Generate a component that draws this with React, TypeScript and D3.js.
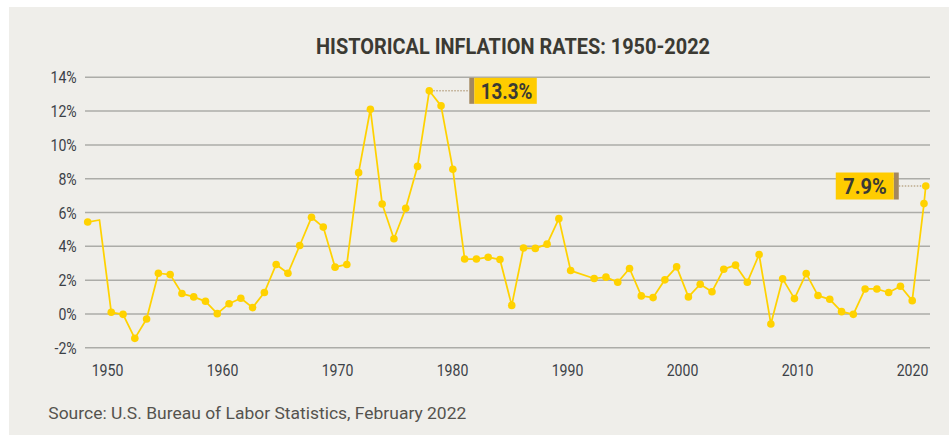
import * as d3 from 'd3'
import type { ReactNode } from 'react'

const TITLE = 'HISTORICAL INFLATION RATES: 1950-2022'
const SOURCE = 'Source: U.S. Bureau of Labor Statistics, February 2022'

// annual CPI change (%), 1950 onwards; null = year without a point
const startYear = 1950
const inflation: (number | null)[] = [
  5.44, 5.56, 0.1, -0.02, -1.44, -0.3, 2.41, 2.33, 1.21, 1.01,
  0.75, 0.02, 0.61, 0.93, 0.38, 1.27, 2.93, 2.41, 4.05, 5.72,
  5.14, 2.77, 2.93, 8.36, 12.11, 6.51, 4.45, 6.25, 8.73, 13.2,
  12.31, 8.56, 3.25, 3.25, 3.36, 3.22, 0.51, 3.9, 3.88, 4.13,
  5.64, 2.57, null, 2.1, 2.18, 1.88, 2.69, 1.07, 0.97, 2.02,
  2.79, 1.01, 1.76, 1.32, 2.65, 2.89, 1.88, 3.52, -0.59, 2.08,
  0.91, 2.39, 1.09, 0.87, 0.14, -0.02, 1.48, 1.48, 1.27, 1.64,
  0.79, 6.53,
]
// most recent reading (February 2022), just after the 2021 point
const latestYear = 2021.15
const latestValue = 7.57
const hiddenMarkerYears = [1951]

const yTicks = [-2, 0, 2, 4, 6, 8, 10, 12, 14]
const xTickYears = [1950, 1960, 1970, 1980, 1990, 2000, 2010, 2020]

const peakYear = 1979
const peakLabel = '13.3%'
const latestLabel = '7.9%'

const W = 949
const H = 436
const FONT = 'Roboto, "Noto Sans", sans-serif'
const BG = '#efeeea'
const YELLOW = '#ffd200'
const BOX = '#ffcc00'
const BROWN = '#a3885f'
const TEXT = '#3c4147'

type Pt = { year: number; value: number }

// narrow text: the original uses a condensed face, so squeeze Roboto horizontally
function Narrow({ x, y, anchor, children }: { x: number; y: number; anchor: 'start' | 'middle' | 'end'; children: ReactNode }) {
  return (
    <g transform={`translate(${x},${y}) scale(0.83,1)`}>
      <text textAnchor={anchor} fontFamily={FONT} fontSize={17} fill={TEXT}>
        {children}
      </text>
    </g>
  )
}

export default function App() {
  const points: Pt[] = inflation
    .map((v, i) => ({ year: startYear + i, value: v }))
    .filter((d): d is Pt => d.value !== null)
  points.push({ year: latestYear, value: latestValue })

  const x = d3.scaleLinear().domain([1950, 2021]).range([87.7, 924])
  const xLabel = d3.scaleLinear().domain([1950, 2020]).range([107.5, 912.5])
  const y = d3.scaleLinear().domain([0, 14]).range([314, 77.3])

  const line = d3.line<Pt>()
    .x((d) => x(d.year))
    .y((d) => y(d.value))

  const peak = points.find((d) => d.year === peakYear)!
  const px = x(peak.year)
  const py = y(peak.value)
  const lx = x(latestYear)
  const ly = y(latestValue)

  return (
    <svg width={W} height={H} style={{ position: 'absolute', left: 0, top: 0, display: 'block' }}>
      <rect x={0} y={0} width={W} height={H} fill="#fff" />
      <rect x={9} y={7} width={W - 9} height={428} fill={BG} />

      <text
        x={513}
        y={54}
        textAnchor="middle"
        fontFamily={FONT}
        fontWeight="bold"
        fontSize={22}
        fill="#3b3a33"
        textLength={394}
        lengthAdjust="spacingAndGlyphs"
      >
        {TITLE}
      </text>

      {yTicks.map((t) => (
        <g key={t}>
          <line x1={85} x2={930} y1={y(t)} y2={y(t)} stroke="#acaca8" strokeWidth={1.5} />
          <Narrow x={76.7} y={y(t) + 6.1} anchor="end">{t}%</Narrow>
        </g>
      ))}

      {xTickYears.map((yr) => (
        <Narrow key={yr} x={xLabel(yr)} y={375.5} anchor="middle">{yr}</Narrow>
      ))}

      <path
        d={line(points) ?? ''}
        fill="none"
        stroke={YELLOW}
        strokeWidth={1.75}
        strokeLinejoin="round"
      />
      {points
        .filter((d) => !hiddenMarkerYears.includes(d.year))
        .map((d) => (
          <circle key={d.year} cx={x(d.year)} cy={y(d.value)} r={3.8} fill={YELLOW} />
        ))}

      {/* peak callout */}
      <line x1={px + 4} x2={px + 40} y1={py} y2={py} stroke={BROWN} strokeWidth={1} strokeDasharray="1.5 1.5" />
      <rect x={px + 40} y={py - 13} width={5} height={26} fill={BROWN} />
      <rect x={px + 45} y={py - 13} width={62.5} height={26} fill={BOX} />
      <text
        x={px + 51.4}
        y={py + 8}
        fontFamily={FONT}
        fontWeight="bold"
        fontSize={22}
        fill="#3a3a35"
        textLength={51.6}
        lengthAdjust="spacingAndGlyphs"
      >
        {peakLabel}
      </text>

      {/* latest callout */}
      <line x1={lx - 27} x2={lx - 4} y1={ly} y2={ly} stroke={BROWN} strokeWidth={1} strokeDasharray="1.5 1.5" />
      <rect x={lx - 32} y={ly - 13.5} width={5} height={27} fill={BROWN} />
      <rect x={lx - 90} y={ly - 13.5} width={58} height={27} fill={BOX} />
      <text
        x={lx - 82.4}
        y={ly + 8}
        fontFamily={FONT}
        fontWeight="bold"
        fontSize={22}
        fill="#3a3a35"
        textLength={43.4}
        lengthAdjust="spacingAndGlyphs"
      >
        {latestLabel}
      </text>

      <text
        x={48.3}
        y={419}
        fontFamily={FONT}
        fontSize={16.5}
        fill="#55534e"
        textLength={418}
        lengthAdjust="spacingAndGlyphs"
      >
        {SOURCE}
      </text>
    </svg>
  )
}
